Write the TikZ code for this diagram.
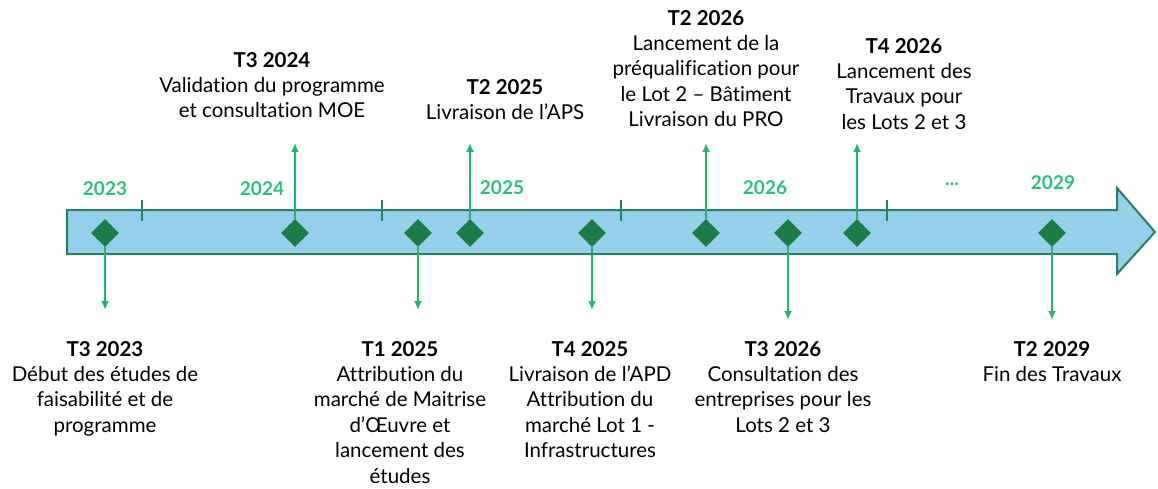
\documentclass[tikz,border=0pt]{standalone}
\usepackage{fontspec}
\setmainfont{Lato}[Ligatures=NoCommon]
\usetikzlibrary{arrows.meta,shapes.geometric}

\definecolor{barblue}{RGB}{150,207,234}
\definecolor{barline}{RGB}{44,126,96}
\definecolor{jalon}{RGB}{30,122,72}
\definecolor{annee}{RGB}{44,192,124}
\definecolor{fleche}{RGB}{36,180,110}

\tikzset{
  jalonpt/.style={diamond,fill=jalon,inner sep=0pt,minimum size=28pt},
  annee/.style={font=\bfseries\fontsize{19}{22}\selectfont,text=annee,inner sep=0pt},
  texte/.style={align=center,inner sep=0pt,anchor=north,font=\fontsize{20.5}{25.4}\selectfont},
  trait/.style={draw=barline,line width=2.5pt},
  lien/.style={draw=fleche,line width=2pt,-{Latex[length=9pt,width=8pt]}}
}

\begin{document}
\begin{tikzpicture}[x=1pt,y=-1pt]
\useasboundingbox (0,0) rectangle (1158,488);

\draw[barline,line width=2pt,fill=barblue] (67,210) -- (1117,210) -- (1117,188) -- (1155,232) -- (1117,274) -- (1117,254) -- (67,254) -- cycle;

\draw[trait] (142,200) -- (142,221);
\draw[trait] (382,200) -- (382,221);
\draw[trait] (621,200) -- (621,221);
\draw[trait] (887,200) -- (887,221);

\node[annee] (a2023) at (105,189) {2023};
\node[annee] (a2024) at (262,189) {2024};
\node[annee] (a2025) at (502,188) {2025};
\node[annee] (a2026) at (765,188) {2026};
\node[annee] (asuite) at (952,184) {...};
\node[annee] (a2029) at (1053,183) {2029};

\coordinate (h1) at (295,143);
\coordinate (h2) at (470,143);
\coordinate (h3) at (706,143);
\coordinate (h4) at (857,143);
\coordinate (b1) at (105,310);
\coordinate (b2) at (418,310);
\coordinate (b3) at (592,310);
\coordinate (b4) at (788,320);
\coordinate (b5) at (1052,320);

\node[jalonpt] (d1) at (105,233) {};
\node[jalonpt] (d2) at (295,233) {};
\node[jalonpt] (d3) at (418,233) {};
\node[jalonpt] (d4) at (470,233) {};
\node[jalonpt] (d5) at (592,233) {};
\node[jalonpt] (d6) at (706,233) {};
\node[jalonpt] (d7) at (788,233) {};
\node[jalonpt] (d8) at (857,233) {};
\node[jalonpt] (d9) at (1052,233) {};

\draw[lien] (d2) -- (h1);
\draw[lien] (d4) -- (h2);
\draw[lien] (d6) -- (h3);
\draw[lien] (d8) -- (h4);
\draw[lien] (d1) -- (b1);
\draw[lien] (d3) -- (b2);
\draw[lien] (d5) -- (b3);
\draw[lien] (d7) -- (b4);
\draw[lien] (d9) -- (b5);

\node[texte] (t1) at (272,52) {\textbf{T3 2024}\\Validation du programme\\et consultation MOE};
\node[texte] (t2) at (505,79) {\textbf{T2 2025}\\Livraison de l’APS};
\node[texte] (t3) at (706,10) {\textbf{T2 2026}\\Lancement de la\\préqualification pour\\le Lot 2 – Bâtiment\\Livraison du PRO};
\node[texte] (t4) at (904,38) {\textbf{T4 2026}\\Lancement des\\Travaux pour\\les Lots 2 et 3};

\node[texte] (t5) at (105,341) {\textbf{T3 2023}\\Début des études de\\faisabilité et de\\programme};
\node[texte] (t6) at (400,341) {\textbf{T1 2025}\\Attribution du\\marché de Maitrise\\d’Œuvre et\\lancement des\\études};
\node[texte] (t7) at (590,341) {\textbf{T4 2025}\\Livraison de l’APD\\Attribution du\\marché Lot 1 -\\Infrastructures};
\node[texte] (t8) at (783,341) {\textbf{T3 2026}\\Consultation des\\entreprises pour les\\Lots 2 et 3};
\node[texte] (t9) at (1052,341) {\textbf{T2 2029}\\Fin des Travaux};

\end{tikzpicture}
\end{document}
